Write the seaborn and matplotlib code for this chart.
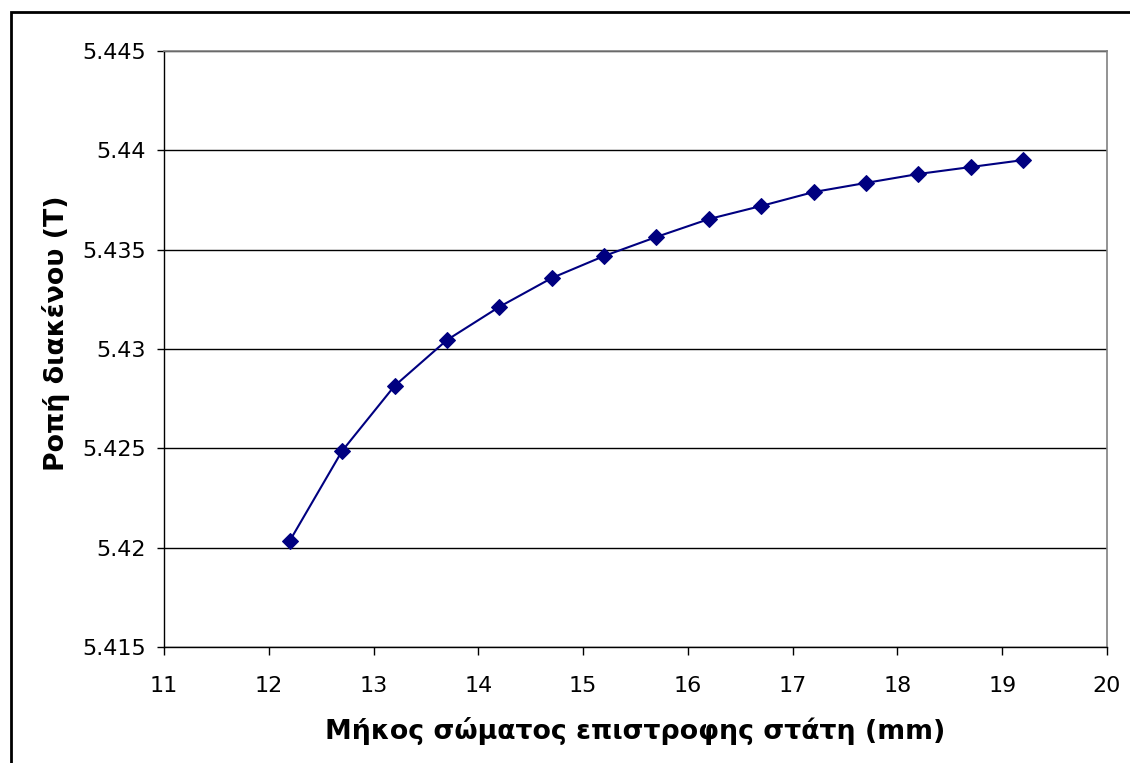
import numpy as np
import pandas as pd
import matplotlib
matplotlib.use("Agg")
import matplotlib.pyplot as plt
import seaborn as sns
from matplotlib.patches import Rectangle

# stator return body length (mm) and air-gap torque values
mikos = [12.2, 12.7, 13.2, 13.7, 14.2, 14.7, 15.2, 15.7, 16.2, 16.7, 17.2, 17.7, 18.2, 18.7, 19.2]
ropi = [5.42034, 5.42487, 5.42814, 5.43045, 5.43212, 5.43357, 5.43468, 5.43564,
        5.43654, 5.43720, 5.43790, 5.43836, 5.43881, 5.43916, 5.43951]
x_ticks = [11, 12, 13, 14, 15, 16, 17, 18, 19, 20]
y_ticks = [5.415, 5.42, 5.425, 5.43, 5.435, 5.44, 5.445]

df = pd.DataFrame({"mikos": mikos, "ropi": ropi})

sns.set_style("white")
plt.rcParams["font.family"] = ["DejaVu Sans"]
plt.rcParams["text.color"] = "black"
plt.rcParams["axes.labelcolor"] = "black"

fig = plt.figure(figsize=(11.3, 7.63), dpi=100)
ax = fig.add_axes([164 / 1130, 1 - 647 / 763, (1107 - 164) / 1130, (647 - 51) / 763])

sns.lineplot(data=df, x="mikos", y="ropi", ax=ax, color="#000080", lw=1.5,
             marker="D", markersize=8, markeredgecolor="#000080")

ax.set_xlim(11, 20)
ax.set_ylim(5.415, 5.445)
ax.set_xticks(x_ticks)
ax.set_xticklabels([str(t) for t in x_ticks])
ax.set_yticks(y_ticks)
ax.set_yticklabels([f"{t:g}" for t in y_ticks])
ax.yaxis.grid(True, color="black", lw=1)
ax.set_axisbelow(True)

ax.tick_params(axis="both", labelsize=16, direction="out", length=6, width=1,
               color="black", labelcolor="black", bottom=True, left=True)
ax.tick_params(axis="x", pad=15)
ax.tick_params(axis="y", pad=8, length=5)
for s in ["left", "bottom"]:
    ax.spines[s].set_color("black")
    ax.spines[s].set_linewidth(1)
for s in ["top", "right"]:
    ax.spines[s].set_color("#808080")
    ax.spines[s].set_linewidth(1.2)

ax.set_xlabel("Μήκος σώματος επιστροφης στάτη (mm)", fontsize=19.3, fontweight="bold", va="center")
ax.set_ylabel("Ροπή διακένου (T)", fontsize=19.3, fontweight="bold", va="center")
ax.xaxis.set_label_coords(0.4995, -0.141)
ax.yaxis.set_label_coords(-0.1145, 0.527)

# outer chart border
fig.patches.append(Rectangle((11 / 1130, -0.1), 1.2, 1 - 12 / 763 + 0.1,
                             transform=fig.transFigure, fill=False,
                             edgecolor="black", lw=2))

fig.savefig("out.png", dpi=100)
